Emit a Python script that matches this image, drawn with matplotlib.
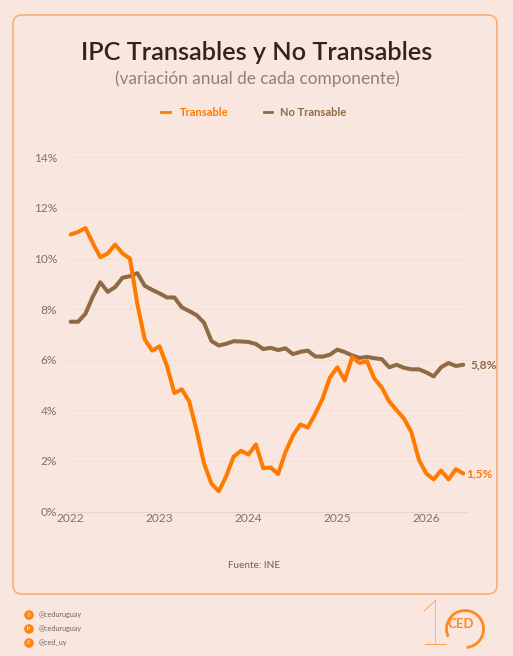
import matplotlib.pyplot as plt
from matplotlib.patches import FancyBboxPatch, Circle, Arc

plt.rcParams['font.family'] = ['Lato', 'DejaVu Sans']

# variacion anual, mensual desde enero 2022
transable = [10.95, 11.05, 11.2, 10.6, 10.05, 10.2, 10.55, 10.2, 10.0, 8.2, 6.8, 6.36,
             6.53, 5.75, 4.68, 4.83, 4.35, 3.2, 1.9, 1.1, 0.8, 1.4, 2.17, 2.4,
             2.25, 2.65, 1.71, 1.74, 1.48, 2.35, 3.0, 3.44, 3.32, 3.85, 4.46, 5.3,
             5.7, 5.18, 6.1, 5.87, 5.94, 5.25, 4.9, 4.35, 4.0, 3.67, 3.13, 2.05,
             1.5, 1.27, 1.62, 1.27, 1.67, 1.5]
no_transable = [7.5, 7.5, 7.82, 8.5, 9.06, 8.68, 8.87, 9.24, 9.3, 9.42, 8.92, 8.76,
                8.62, 8.46, 8.46, 8.07, 7.92, 7.76, 7.46, 6.74, 6.56, 6.63, 6.73, 6.72,
                6.7, 6.62, 6.42, 6.47, 6.38, 6.45, 6.22, 6.31, 6.36, 6.13, 6.12, 6.2,
                6.4, 6.3, 6.17, 6.07, 6.11, 6.06, 6.02, 5.7, 5.8, 5.68, 5.62, 5.62,
                5.5, 5.34, 5.7, 5.87, 5.75, 5.8]
years = ['2022', '2023', '2024', '2025', '2026']
y_ticks = [0, 2, 4, 6, 8, 10, 12, 14]
redes = ['@ceduruguay', '@ceduruguay', '@ced_uy']
iconos = ['◎', 'in', 'X']

W, H = 513, 656
bg = '#F9E7DF'
naranja = '#FF7A00'
marron = '#8F6A45'
gris = '#7D7268'

fig = plt.figure(figsize=(W / 100, H / 100), dpi=100, facecolor=bg)

# capa en pixeles para marco, logo y redes
over = fig.add_axes([0, 0, 1, 1], zorder=0)
over.set_xlim(0, W)
over.set_ylim(H, 0)
over.axis('off')
over.add_patch(FancyBboxPatch((13, 15), 484, 579, boxstyle='round,pad=0,rounding_size=9',
                              fc='none', ec='#FBB27A', lw=1.3))

ax = fig.add_axes([65.5 / W, 1 - 511.5 / H, 401.5 / W, 354.2 / H], zorder=1)
ax.patch.set_alpha(0)
x = list(range(len(transable)))
ax.plot(x, no_transable, color=marron, lw=2.9, clip_on=False, solid_capstyle='round')
ax.plot(x, transable, color=naranja, lw=2.9, clip_on=False, solid_capstyle='round')
ax.set_xlim(-0.7, 53.5)
ax.set_ylim(0, 14)
ax.set_xticks(range(0, 60, 12), years)
ax.set_yticks(y_ticks, [f'{v}%' for v in y_ticks])
ax.tick_params(length=0, labelsize=8.6, labelcolor=gris)
ax.tick_params(axis='x', pad=1)
ax.tick_params(axis='y', pad=6)
ax.grid(axis='y', color='#F4E0D6', lw=1)
ax.set_axisbelow(True)
for s in ['top', 'right', 'left']:
    ax.spines[s].set_visible(False)
ax.spines['bottom'].set_color('#E5D5CA')

# etiquetas del ultimo dato
ax.annotate('5,8%', (x[-1], no_transable[-1]), xytext=(5, 0), textcoords='offset points',
            color=marron, fontsize=8.6, fontweight='bold', va='center', annotation_clip=False)
ax.annotate('1,5%', (x[-1], transable[-1]), xytext=(2, 0), textcoords='offset points',
            color=naranja, fontsize=8.6, fontweight='bold', va='center', annotation_clip=False)

# titulos
over.text(257, 52, 'IPC Transables y No Transables', ha='center', va='center',
          fontsize=18.2, fontweight='semibold', color='#33231A')
over.text(257, 79, '(variación anual de cada componente)', ha='center', va='center',
          fontsize=12.4, color='#8E8277')

# leyenda
over.plot([161, 170], [111.5, 111.5], color=naranja, lw=2)
over.text(180, 112, 'Transable', color=naranja, fontsize=8, fontweight='bold', va='center')
over.plot([264, 272], [111.5, 111.5], color=marron, lw=2)
over.text(280, 112, 'No Transable', color=marron, fontsize=8, fontweight='bold', va='center')

over.text(254, 565, 'Fuente: INE', ha='center', va='center', fontsize=7.2, color='#6B6058')

# redes
for yy, red, ic in zip([615, 629, 643], redes, iconos):
    over.add_patch(Circle((29, yy), 4.8, fc='#FF8412', ec='none'))
    over.text(29, yy, ic, ha='center', va='center', fontsize=3.6, color='#FDE3CC', fontweight='bold')
    over.text(39, yy, red, va='center', fontsize=5.2, color='#6F675F')

# logo
over.text(434, 628, '1', ha='center', va='center', fontsize=45, color='#FF8A1E', fontweight='light')
over.add_patch(Arc((465, 629), 37, 37, theta1=-205, theta2=85, color='#FF8A1E', lw=2, zorder=3))
over.text(461, 624, 'CED', ha='center', va='center', fontsize=9.5, color='#FF8A1E', fontweight='bold')

fig.savefig('out.png', dpi=100, facecolor=bg)
